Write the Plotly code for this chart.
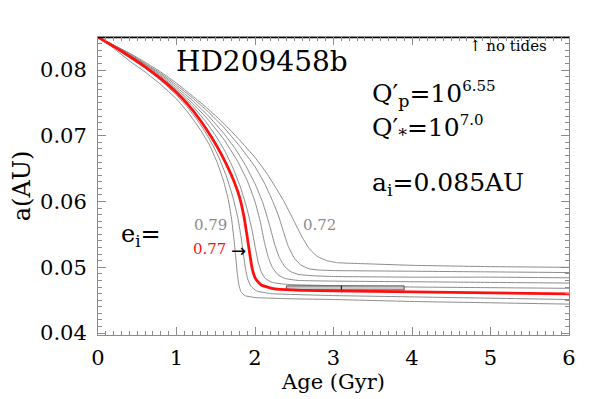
import plotly.graph_objects as go

# eccentricity tracks, age in Gyr, semi-major axis in AU
ecc = ['0.72', '0.73', '0.74', '0.75', '0.76', '0.77', '0.78', '0.79']

t_072 = [0, 0.2, 0.4, 0.6, 0.8, 1.0, 1.2, 1.4, 1.6, 1.8, 2.0, 2.15, 2.27, 2.37, 2.49, 2.6, 2.7, 2.8, 2.92,
         3.05, 3.5, 4.0, 5.0, 6.0]
a_072 = [0.0850, 0.0838, 0.0826, 0.0812, 0.0797, 0.0780, 0.0761, 0.0741, 0.0719, 0.0694, 0.0667, 0.0643,
         0.0620, 0.0600, 0.0572, 0.0546, 0.0527, 0.0516, 0.0510, 0.0507, 0.0505, 0.0503, 0.0501, 0.0500]

t_073 = [0, 0.2, 0.4, 0.6, 0.8, 1.0, 1.2, 1.4, 1.6, 1.8, 2.0, 2.12, 2.22, 2.3, 2.36, 2.42, 2.5, 2.58, 2.68,
         2.8, 3.0, 4.0, 5.0, 6.0]
a_073 = [0.0850, 0.0838, 0.0825, 0.0810, 0.0795, 0.0777, 0.0758, 0.0737, 0.0713, 0.0685, 0.0653, 0.0628,
         0.0602, 0.0578, 0.0555, 0.0533, 0.0514, 0.0504, 0.0498, 0.0496, 0.0495, 0.0494, 0.0493, 0.0492]

t_074 = [0, 0.2, 0.4, 0.6, 0.8, 1.0, 1.2, 1.4, 1.6, 1.75, 1.88, 2.0, 2.1, 2.19, 2.25, 2.31, 2.38, 2.46, 2.56,
         2.75, 3.0, 4.0, 5.0, 6.0]
a_074 = [0.0850, 0.0837, 0.0824, 0.0809, 0.0793, 0.0774, 0.0754, 0.0731, 0.0704, 0.0680, 0.0655, 0.0627,
         0.0598, 0.0562, 0.0535, 0.0515, 0.0501, 0.0493, 0.0489, 0.0487, 0.0486, 0.0485, 0.0485, 0.0484]

t_075 = [0, 0.2, 0.4, 0.6, 0.8, 1.0, 1.2, 1.4, 1.6, 1.77, 1.9, 2.0, 2.07, 2.12, 2.17, 2.22, 2.29, 2.38, 2.55,
         3.0, 4.0, 5.0, 6.0]
a_075 = [0.0850, 0.0837, 0.0823, 0.0808, 0.0791, 0.0771, 0.0750, 0.0725, 0.0695, 0.0663, 0.0632, 0.0600,
         0.0568, 0.0538, 0.0515, 0.0500, 0.0489, 0.0483, 0.0480, 0.0479, 0.0478, 0.0477, 0.0476]

t_076 = [0, 0.2, 0.4, 0.6, 0.8, 1.0, 1.2, 1.37, 1.5, 1.62, 1.72, 1.82, 1.9, 1.96, 2.0, 2.04, 2.08, 2.13, 2.22,
         2.4, 3.0, 4.0, 5.0, 6.0]
a_076 = [0.0850, 0.0836, 0.0822, 0.0806, 0.0789, 0.0769, 0.0746, 0.0722, 0.0700, 0.0676, 0.0651, 0.0620,
         0.0588, 0.0558, 0.0532, 0.0508, 0.0493, 0.0483, 0.0477, 0.0474, 0.0472, 0.0470, 0.0469, 0.0468]

t_077 = [0, 0.2, 0.4, 0.6, 0.8, 1.0, 1.15, 1.3, 1.45, 1.58, 1.7, 1.8, 1.86, 1.9, 1.94, 1.97, 2.01, 2.08, 2.25,
         2.6, 3.0, 4.0, 5.0, 6.0]
a_077 = [0.0850, 0.0836, 0.0821, 0.0805, 0.0787, 0.0766, 0.0747, 0.0724, 0.0697, 0.0670, 0.0640, 0.0608,
         0.0577, 0.0547, 0.0515, 0.0495, 0.0482, 0.0473, 0.0467, 0.0465, 0.0464, 0.04625, 0.0461, 0.04595]

t_078 = [0, 0.2, 0.4, 0.6, 0.8, 1.0, 1.15, 1.3, 1.42, 1.54, 1.64, 1.72, 1.78, 1.82, 1.85, 1.88, 1.91, 1.95,
         2.02, 2.2, 3.0, 4.0, 5.0, 6.0]
a_078 = [0.0850, 0.0835, 0.0819, 0.0803, 0.0784, 0.0762, 0.0742, 0.0718, 0.0695, 0.0667, 0.0637, 0.0606,
         0.0576, 0.0548, 0.0522, 0.0497, 0.0481, 0.0471, 0.0464, 0.0460, 0.0457, 0.0455, 0.0453, 0.0451]

t_079 = [0, 0.2, 0.4, 0.6, 0.8, 1.0, 1.15, 1.3, 1.42, 1.52, 1.6, 1.66, 1.70, 1.73, 1.755, 1.775, 1.795, 1.82,
         1.87, 2.0, 2.5, 3.0, 4.0, 5.0, 6.0]
a_079 = [0.0850, 0.0833, 0.0814, 0.0797, 0.0778, 0.0756, 0.0735, 0.0710, 0.0686, 0.0659, 0.0631, 0.0603,
         0.0575, 0.0545, 0.0515, 0.0490, 0.0473, 0.0463, 0.0457, 0.0454, 0.0452, 0.0451, 0.0448, 0.0446, 0.0444]

tracks = [(t_072, a_072), (t_073, a_073), (t_074, a_074), (t_075, a_075),
          (t_076, a_076), (t_077, a_077), (t_078, a_078), (t_079, a_079)]
highlight = '0.77'

# no-tides reference
no_tides_t = [0, 6]
no_tides_a = [0.085, 0.085]

# observed age range and current orbit
age_lo, age_best, age_hi = 2.4, 3.1, 3.9
a_obs_lo, a_obs_hi = 0.04655, 0.04717
a_tick = [0.0462, 0.0472]

SERIF = "DejaVu Serif"
GREY = '#8c8c8c'
RED = '#ff1010'

fig = go.Figure()

for e, (t, a) in zip(ecc, tracks):
    if e == highlight:
        continue
    fig.add_trace(go.Scatter(x=t, y=a, mode='lines',
                             line=dict(color=GREY, width=1, shape='spline', smoothing=0.4)))

fig.add_trace(go.Scatter(x=[age_lo, age_hi, age_hi, age_lo, age_lo],
                         y=[a_obs_hi, a_obs_hi, a_obs_lo, a_obs_lo, a_obs_hi],
                         mode='lines', fill='toself', fillcolor='#c8c8c8',
                         line=dict(color='#555555', width=1)))
fig.add_trace(go.Scatter(x=[age_best, age_best], y=a_tick, mode='lines', line=dict(color='black', width=1)))

t_hl, a_hl = tracks[ecc.index(highlight)]
fig.add_trace(go.Scatter(x=t_hl, y=a_hl, mode='lines',
                         line=dict(color=RED, width=2.8, shape='spline', smoothing=0.4)))

fig.add_trace(go.Scatter(x=no_tides_t, y=no_tides_a, mode='lines', line=dict(color='black', width=2)))

SUP = '<span style="font-size:15px">{}</span>'
ann = [
    dict(x=2.09, y=0.08137, text='HD209458b', font=dict(size=28), xanchor='center'),
    dict(x=5.22, y=0.08365, text='↑ no tides', font=dict(size=15), xanchor='center'),
    dict(x=3.47, y=0.07640, text='Q′<sub>p</sub>=10<sup>' + SUP.format('6.55') + '</sup>',
         font=dict(size=25), xanchor='left'),
    dict(x=3.47, y=0.07120, text='Q′<sub>*</sub>=10<sup>' + SUP.format('7.0') + '</sup>',
         font=dict(size=25), xanchor='left'),
    dict(x=3.47, y=0.06265, text='a<sub>i</sub>=0.085AU', font=dict(size=25), xanchor='left'),
    dict(x=0.27, y=0.05489, text='e<sub>i</sub>=', font=dict(size=24), xanchor='left'),
    dict(x=1.427, y=0.05648, text='0.79', font=dict(size=15, color=GREY), xanchor='center'),
    dict(x=2.82, y=0.05648, text='0.72', font=dict(size=15, color=GREY), xanchor='center'),
    dict(x=1.42, y=0.05275, text='0.77', font=dict(size=15, color=RED), xanchor='center'),
    dict(x=1.79, y=0.0526, text='→', font=dict(size=18, family='DejaVu Sans'), xanchor='center'),
]
for a in ann:
    a.setdefault('showarrow', False)
    a.setdefault('yanchor', 'middle')
    a['font'].setdefault('family', SERIF)
    a['font'].setdefault('color', 'black')
    fig.add_annotation(xref='x', yref='y', **a)

axis_common = dict(showgrid=False, zeroline=False, showline=True, linecolor=GREY, linewidth=1,
                   mirror='ticks', ticks='inside', ticklen=8, tickcolor=GREY, tickwidth=1,
                   automargin=False, tickfont=dict(family=SERIF, size=21, color='black'))

fig.update_xaxes(range=[0, 6], dtick=1, tick0=0, ticklabelstandoff=4,
                 minor=dict(dtick=0.1, ticks='inside', ticklen=4, tickcolor=GREY),
                 title=dict(text='Age (Gyr)', font=dict(family=SERIF, size=21, color='black'), standoff=2),
                 **axis_common)
fig.update_yaxes(range=[0.0397, 0.08503], dtick=0.01, tick0=0.04, tickformat='.2f', ticklabelstandoff=6,
                 minor=dict(dtick=0.001, ticks='inside', ticklen=4, tickcolor=GREY),
                 title=dict(text='a(AU)', font=dict(family=SERIF, size=24, color='black'), standoff=12),
                 **axis_common)

# page body adds ~8px offset, so the figure is drawn slightly smaller than the window
fig.update_layout(width=591, height=391, showlegend=False,
                  margin=dict(l=90, r=30, t=29, b=64),
                  paper_bgcolor='white', plot_bgcolor='white')

fig.write_html("out.html")
